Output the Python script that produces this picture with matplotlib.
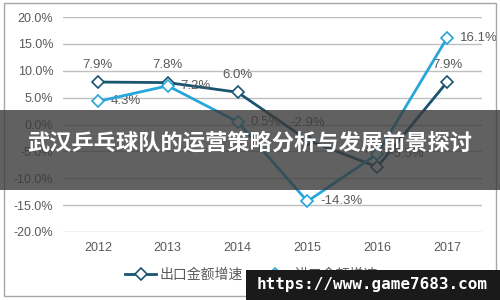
import matplotlib.pyplot as plt
from matplotlib.patches import Rectangle

plt.rcParams['font.family'] = ['Liberation Sans', 'Noto Sans CJK SC', 'DejaVu Sans']

years = ["2012", "2013", "2014", "2015", "2016", "2017"]
exportGrowth = [7.9, 7.8, 6.0, -2.9, -7.9, 7.9]
importGrowth = [4.3, 7.2, 0.5, -14.3, -5.5, 16.1]
exportLabels = ["7.9%", "7.8%", "6.0%", "-2.9%", "-7.9%", "7.9%"]
importLabels = ["4.3%", "7.2%", "0.5%", "-14.3%", "-5.5%", "16.1%"]
yTicks = [20, 15, 10, 5, 0, -5, -10, -15, -20]

darkColor = "#1A5470"
lightColor = "#26A6D9"
textColor = "#595959"

fig = plt.figure(figsize=(5, 3), dpi=100)
ax = fig.add_axes([0.126, 0.2267, 0.838, 0.7166])

x = list(range(len(years)))
ax.plot(x, exportGrowth, color=darkColor, lw=2, marker="D", markersize=6,
        markerfacecolor="white", markeredgecolor=darkColor, markeredgewidth=1.2,
        label="出口金额增速", zorder=3)
ax.plot(x, importGrowth, color=lightColor, lw=2, marker="D", markersize=6,
        markerfacecolor="white", markeredgecolor=lightColor, markeredgewidth=1.2,
        label="进口金额增速", zorder=4)

for i in x:
    ax.annotate(exportLabels[i], (i, exportGrowth[i]), xytext=(0, 8), textcoords="offset points",
                ha="center", va="bottom", fontsize=9.5, color=textColor)
    ax.annotate(importLabels[i], (i, importGrowth[i]), xytext=(9, 0), textcoords="offset points",
                ha="left", va="center", fontsize=9.5, color=textColor)

ax.set_xlim(-0.5, len(years) - 0.5)
ax.set_ylim(-20, 20)
ax.set_yticks(yTicks)
ax.set_yticklabels(["{:.1f}%".format(v) for v in yTicks])
ax.set_xticks(x)
ax.set_xticklabels(years)
ax.tick_params(length=0, labelsize=9, colors=textColor, pad=7)
ax.grid(axis="y", color="#BFBFBF", lw=1)
ax.set_axisbelow(True)
for s in ax.spines.values():
    s.set_visible(False)

ax.legend(loc="upper center", bbox_to_anchor=(0.45, -0.11), ncol=2, frameon=False,
          fontsize=10, labelcolor=textColor, handlelength=2.2, handletextpad=0.3,
          columnspacing=1.2)

# outer frame
fig.patches.append(Rectangle((0.008, 0.013), 0.984, 0.977, transform=fig.transFigure,
                             fill=False, edgecolor="#A6A6A6", lw=1))

# title banner
fig.patches.append(Rectangle((0, 0.367), 1, 0.266, transform=fig.transFigure,
                             facecolor="#3a3a3a", alpha=0.8, zorder=10))
fig.text(0.5, 0.522, "武汉乒乓球队的运营策略分析与发展前景探讨", ha="center", va="center",
         fontsize=16, fontweight="bold", color="white", family=["Noto Sans CJK SC"], zorder=11)

# watermark
fig.patches.append(Rectangle((0.492, 0), 0.508, 0.1, transform=fig.transFigure,
                             facecolor="#1a1a1a", zorder=10))
fig.text(0.745, 0.05, "https://www.game7683.com", ha="center", va="center",
         fontsize=11.5, fontweight="bold", color="white", family=["DejaVu Sans Mono"], zorder=11)

plt.savefig("out.png", dpi=100)
